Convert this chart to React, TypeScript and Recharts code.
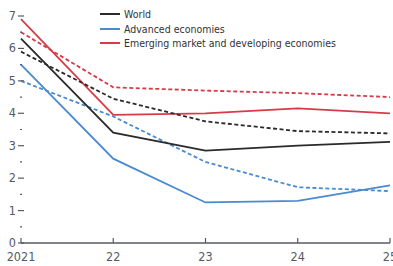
import React from 'react';
import { LineChart, Line, XAxis, YAxis } from 'recharts';

const years = [2021, 2022, 2023, 2024, 2025];
const worldActual = [6.3, 3.4, 2.85, 3.0, 3.12];
const worldPrior = [5.9, 4.45, 3.75, 3.45, 3.38];
const advancedActual = [5.5, 2.6, 1.25, 1.3, 1.78];
const advancedPrior = [5.0, 3.9, 2.5, 1.72, 1.6];
const emergingActual = [6.9, 3.95, 4.0, 4.15, 4.0];
const emergingPrior = [6.5, 4.8, 4.7, 4.62, 4.5];
const yTicks = [0, 0.5, 1, 1.5, 2, 2.5, 3, 3.5, 4, 4.5, 5, 5.5, 6, 6.5, 7];

const legendItems = [
  { label: 'World', color: '#2a2a2a' },
  { label: 'Advanced economies', color: '#4a8ad0' },
  { label: 'Emerging market and developing economies', color: '#d63c48' },
];

const FONT = '"DejaVu Sans", sans-serif';
const AXIS = '#555a63';

const data = years.map((y, i) => ({
  year: y,
  worldActual: worldActual[i],
  worldPrior: worldPrior[i],
  advancedActual: advancedActual[i],
  advancedPrior: advancedPrior[i],
  emergingActual: emergingActual[i],
  emergingPrior: emergingPrior[i],
}));

const textStyle = { fontStretch: 'condensed' } as React.CSSProperties;

const LeftTick = (props: any) => {
  const { x, y, payload } = props;
  const major = Number.isInteger(payload.value);
  return (
    <g>
      <line x1={major ? x - 3 : x - 1} x2={major ? x + 3 : x + 1} y1={y} y2={y} stroke={AXIS} strokeWidth={1.2} />
      {major && (
        <text x={x - 5} y={y + 4} textAnchor="end" fontSize={12.5} fill={AXIS} fontFamily={FONT} style={textStyle}>
          {payload.value}
        </text>
      )}
    </g>
  );
};

const RightTick = (props: any) => {
  const { x, y, payload } = props;
  const major = Number.isInteger(payload.value);
  return <line x1={major ? x - 3 : x - 1} x2={major ? x + 3 : x + 1} y1={y} y2={y} stroke={AXIS} strokeWidth={1.2} />;
};

const BottomTick = (props: any) => {
  const { x, y, payload } = props;
  const label = payload.value === 2021 ? '2021' : String(payload.value).slice(2);
  return (
    <g>
      <line x1={x} x2={x} y1={y - 5} y2={y} stroke={AXIS} strokeWidth={1.2} />
      <text x={x} y={y + 18} textAnchor="middle" fontSize={12.5} fill={AXIS} fontFamily={FONT} style={textStyle}>
        {label}
      </text>
    </g>
  );
};

export default function App() {
  return (
    <div style={{ position: 'absolute', left: 0, top: 0, width: 393, height: 266, overflow: 'hidden', background: '#fff' }}>
      <LineChart width={420} height={266} data={data} margin={{ top: 16, right: 0, bottom: 0, left: 0 }}>
        <XAxis
          dataKey="year"
          type="number"
          domain={[2021, 2025]}
          ticks={years}
          height={23}
          tickSize={0}
          tickMargin={0}
          axisLine={{ stroke: AXIS, strokeWidth: 1.5 }}
          tick={<BottomTick />}
        />
        <YAxis
          yAxisId="left"
          domain={[0, 7]}
          ticks={yTicks}
          width={21}
          tickSize={0}
          tickMargin={0}
          axisLine={false}
          tick={<LeftTick />}
          interval={0}
        />
        <YAxis
          yAxisId="right"
          orientation="right"
          domain={[0, 7]}
          ticks={yTicks}
          width={30}
          tickSize={0}
          tickMargin={0}
          axisLine={false}
          tick={<RightTick />}
          interval={0}
        />
        <Line yAxisId="left" dataKey="emergingPrior" stroke="#d63c48" strokeWidth={1.8} strokeDasharray="4 2.5" dot={false} isAnimationActive={false} />
        <Line yAxisId="left" dataKey="emergingActual" stroke="#d63c48" strokeWidth={1.8} dot={false} isAnimationActive={false} />
        <Line yAxisId="left" dataKey="advancedPrior" stroke="#4a8ad0" strokeWidth={1.8} strokeDasharray="4 2.5" dot={false} isAnimationActive={false} />
        <Line yAxisId="left" dataKey="advancedActual" stroke="#4a8ad0" strokeWidth={1.8} dot={false} isAnimationActive={false} />
        <Line yAxisId="left" dataKey="worldPrior" stroke="#2a2a2a" strokeWidth={1.8} strokeDasharray="4 2.5" dot={false} isAnimationActive={false} />
        <Line yAxisId="left" dataKey="worldActual" stroke="#2a2a2a" strokeWidth={1.8} dot={false} isAnimationActive={false} />
      </LineChart>
      <div style={{ position: 'absolute', left: 100, top: 7, fontFamily: FONT, fontStretch: 'condensed', fontSize: 10.5, color: '#333', whiteSpace: 'nowrap' }}>
        {legendItems.map((item) => (
          <div key={item.label} style={{ display: 'flex', alignItems: 'center', height: 14.5 }}>
            <div style={{ width: 20, height: 2, background: item.color, marginRight: 4 }} />
            {item.label}
          </div>
        ))}
      </div>
    </div>
  );
}
